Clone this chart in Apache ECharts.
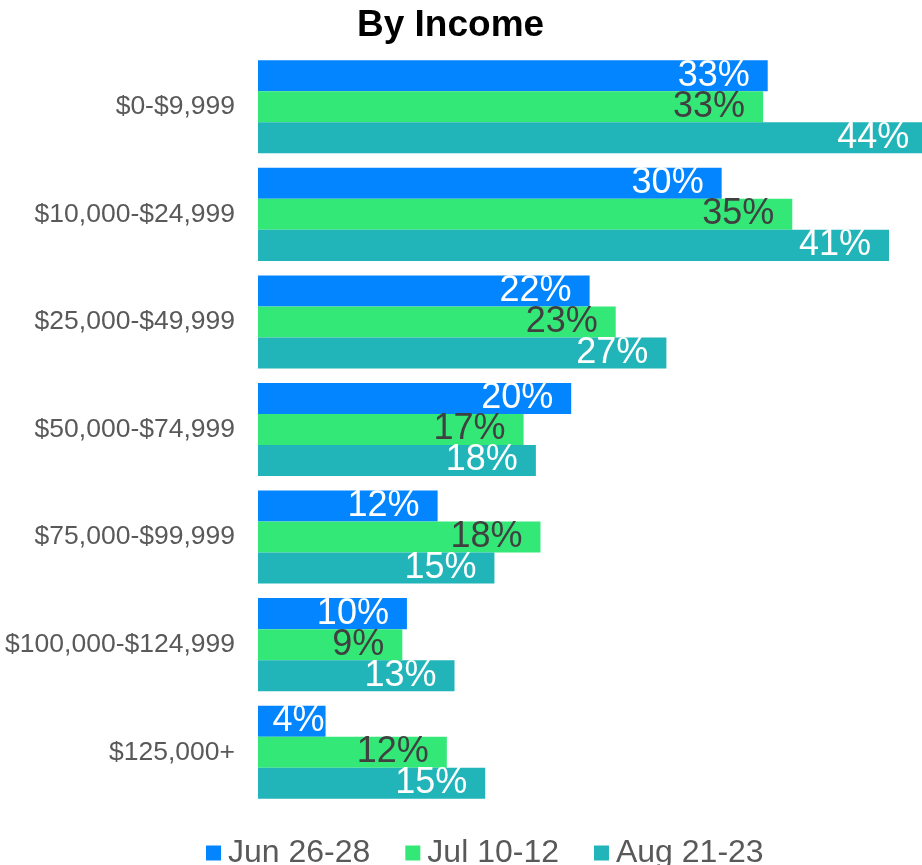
<!DOCTYPE html>
<html>
<head>
<meta charset="utf-8">
<script src="https://cdn.jsdelivr.net/npm/echarts@6/dist/echarts.min.js"></script>
<style>
  html, body { margin: 0; padding: 0; background: #fff; }
  #chart { width: 922px; height: 865px; }
</style>
</head>
<body>
<div id="chart"></div>
<script>
// 收入分组
const categories = ['$0-$9,999', '$10,000-$24,999', '$25,000-$49,999', '$50,000-$74,999',
  '$75,000-$99,999', '$100,000-$124,999', '$125,000+']
const seriesNames = ['Jun 26-28', 'Jul 10-12', 'Aug 21-23']
// values (percent)
const jun = [33.2, 30.2, 21.6, 20.4, 11.7, 9.7, 4.4]
const jul = [32.9, 34.8, 23.3, 17.3, 18.4, 9.4, 12.3]
const aug = [43.6, 41.1, 26.6, 18.1, 15.4, 12.8, 14.8]

const colors = ['#0385ff', '#34e878', '#21b4b8']
const labelColors = ['#ffffff', '#404040', '#ffffff']
const font = '"Liberation Sans", Arial, sans-serif'

const makeSeries = (name, values, i) => {
  return {
    name: name,
    type: 'bar',
    barGap: '0%',
    barCategoryGap: '13.5%',
    clip: false,
    itemStyle: { color: colors[i] },
    label: {
      show: true,
      position: 'insideRight',
      distance: 18,
      color: labelColors[i],
      fontSize: 36,
      fontFamily: font,
      formatter: (p) => Math.round(p.value) + '%'
    },
    // short bars keep their label inside the bar
    data: values.map(v => v < 6 ? { value: v, label: { distance: 1 } } : v)
  }
}

const myChart = echarts.init(document.getElementById('chart'))
const option = {
  animation: false,
  title: {
    text: 'By Income',
    left: 352,
    top: 2,
    textStyle: { fontSize: 37, fontWeight: 'bold', color: '#000', fontFamily: font }
  },
  legend: {
    data: seriesNames,
    left: 201,
    top: 832,
    icon: 'rect',
    itemWidth: 15,
    itemHeight: 15,
    itemGap: 35,
    textStyle: { fontSize: 32, color: '#595959', fontFamily: font, padding: [0, 0, 0, 2] }
  },
  grid: {
    left: 258,
    right: 0,
    top: 53,
    bottom: 59,
    containLabel: false
  },
  xAxis: {
    type: 'value',
    min: 0,
    max: 43.25,
    show: false,
    splitLine: { show: false }
  },
  yAxis: {
    type: 'category',
    inverse: true,
    data: categories,
    axisLine: { show: false },
    axisTick: { show: false },
    axisLabel: { fontSize: 26.5, color: '#595959', fontFamily: font, margin: 23 }
  },
  series: [
    makeSeries(seriesNames[0], jun, 0),
    makeSeries(seriesNames[1], jul, 1),
    makeSeries(seriesNames[2], aug, 2)
  ]
}
myChart.setOption(option)
</script>
</body>
</html>
